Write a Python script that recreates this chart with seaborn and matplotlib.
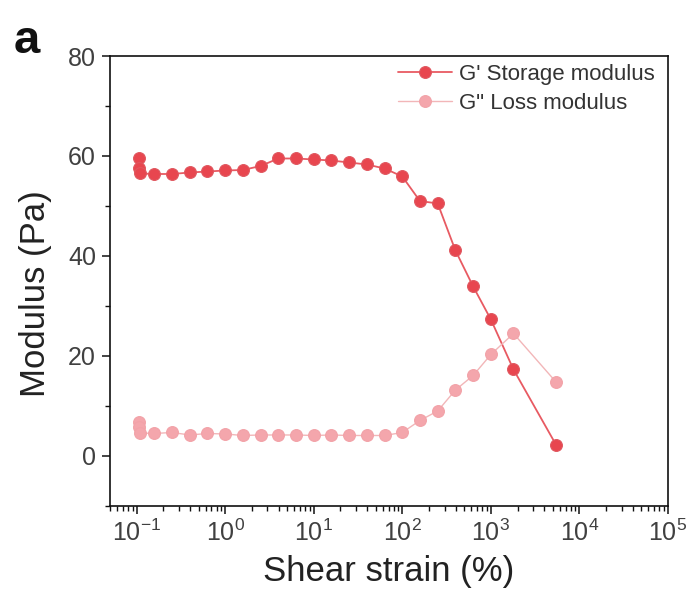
import matplotlib
matplotlib.use("Agg")
import matplotlib.pyplot as plt
import matplotlib.ticker as mticker
import seaborn as sns
import pandas as pd
import numpy as np

# Data
strain = [0.105, 0.107, 0.109, 0.158, 0.251, 0.398, 0.631, 1.0, 1.58, 2.51, 3.98,
          6.31, 10.0, 15.8, 25.1, 39.8, 63.1, 100.0, 158.0, 251.0, 398.0, 631.0,
          1000.0, 1800.0, 5500.0]
storage = [59.5, 57.6, 56.5, 56.4, 56.4, 56.7, 56.9, 57.1, 57.2, 58.0, 59.5,
           59.5, 59.3, 59.1, 58.7, 58.3, 57.5, 55.9, 51.0, 50.5, 41.1, 33.9,
           27.3, 17.3, 2.1]
loss = [6.7, 5.7, 4.6, 4.5, 4.7, 4.2, 4.5, 4.4, 4.1, 4.2, 4.2,
        4.2, 4.1, 4.2, 4.1, 4.1, 4.1, 4.7, 7.1, 9.0, 13.2, 16.1,
        20.3, 24.5, 14.7]
series_names = ["G' Storage modulus", 'G" Loss modulus']
yticks = [0, 20, 40, 60, 80]
xticks = [0.1, 1, 10, 100, 1000, 10000, 100000]

df_s = pd.DataFrame({"strain": strain, "mod": storage})
df_l = pd.DataFrame({"strain": strain, "mod": loss})

sns.set_style("white")
plt.rcParams['font.family'] = ['Liberation Sans', 'DejaVu Sans']

fig = plt.figure(figsize=(6.9, 5.92), dpi=100)
ax = fig.add_axes([0.1594, 0.1453, 0.8087, 0.7601])

red = "#E8464F"
pink = "#F4A6AC"

sns.lineplot(data=df_s, x="strain", y="mod", ax=ax, estimator=None, sort=False,
             color="#E85A62", linewidth=1.3, marker="o", markersize=8.5,
             markerfacecolor=red, markeredgecolor="#E0575F", markeredgewidth=0.8,
             label=series_names[0])
sns.lineplot(data=df_l, x="strain", y="mod", ax=ax, estimator=None, sort=False,
             color="#F2B6B8", linewidth=1.0, marker="o", markersize=8.5,
             markerfacecolor=pink, markeredgecolor="#F2A2A8", markeredgewidth=0.8,
             label=series_names[1])

ax.set_xscale("log")
ax.set_xlim(0.05, 1e5)
ax.set_ylim(-10, 80)
ax.set_yticks(yticks)
ax.yaxis.set_minor_locator(mticker.MultipleLocator(10))
ax.xaxis.set_major_locator(mticker.FixedLocator(xticks))
ax.xaxis.set_minor_locator(mticker.LogLocator(base=10, subs=np.arange(2, 10), numticks=20))
ax.xaxis.set_major_formatter(mticker.LogFormatterSciNotation())
ax.xaxis.set_minor_formatter(mticker.NullFormatter())

for sp in ax.spines.values():
    sp.set_linewidth(1.2)
    sp.set_color("#111111")

ax.tick_params(axis="both", which="major", direction="out", length=6, width=1.1,
               labelsize=18, labelcolor="#404040", color="#111111",
               bottom=True, left=True, top=False, right=False, pad=4)
ax.tick_params(axis="both", which="minor", direction="out", length=3.5, width=1.0,
               color="#111111", bottom=True, left=True, top=False, right=False)

ax.set_xlabel("Shear strain (%)", fontsize=25, color="#222222", labelpad=6)
ax.set_ylabel("Modulus (Pa)", fontsize=25, color="#222222")
ax.yaxis.set_label_coords(-0.104, 0.473)

leg = ax.legend(loc="upper right", frameon=False, fontsize=16, handlelength=2.4,
                borderaxespad=0.05, labelspacing=0.35, handletextpad=0.35,
                labelcolor="#333333", bbox_to_anchor=(0.995, 1.005))

fig.text(0.02, 0.968, "a", fontsize=34, fontweight="bold", va="top", ha="left",
         color="#111111")

fig.savefig("out.png", dpi=100)
